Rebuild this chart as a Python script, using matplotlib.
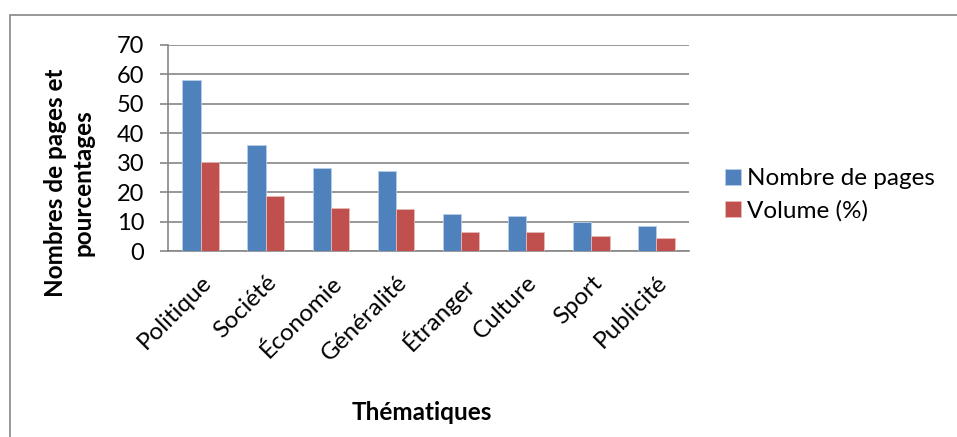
import matplotlib.pyplot as plt
import numpy as np
from matplotlib.patches import Rectangle

# données
themes = ['Politique', 'Société', 'Économie', 'Généralité', 'Étranger', 'Culture', 'Sport', 'Publicité']
nb_pages = [58, 36, 28, 27, 12.5, 12, 10, 8.5]
volume = [30.2, 18.8, 14.6, 14.1, 6.5, 6.3, 5.2, 4.4]

W, H = 957, 437
fig = plt.figure(figsize=(W / 100, H / 100), dpi=100)
ax = fig.add_axes([168 / W, 1 - 251 / H, (689 - 168) / W, (251 - 44.7) / H])

x = np.arange(len(themes))
bw = 0.28
ax.bar(x - bw / 2, nb_pages, bw, color='#4F81BD', edgecolor='#B9CDE5', linewidth=0.6,
       label='Nombre de pages', zorder=3)
ax.bar(x + bw / 2, volume, bw, color='#C0504D', edgecolor='#E6B9B8', linewidth=0.6,
       label='Volume (%)', zorder=3)

ax.set_xlim(-0.5, len(themes) - 0.5)
ax.set_ylim(0, 70)
ax.set_yticks(range(0, 71, 10))
ax.yaxis.grid(True, color='#868686', linewidth=1.2, zorder=0)
ax.set_axisbelow(True)

for s in ['top', 'right']:
    ax.spines[s].set_visible(False)
for s in ['left', 'bottom']:
    ax.spines[s].set_color('#868686')
    ax.spines[s].set_linewidth(1.2)

ax.tick_params(axis='y', length=6, width=1.2, color='#868686', labelsize=17, pad=11)
ax.tick_params(axis='x', length=0, labelsize=17.5, pad=15)
for lab in ax.get_yticklabels():
    lab.set_family('Lato')

ax.set_xticks(x)
ax.set_xticklabels(themes, rotation=45, ha='right', rotation_mode='anchor', family='Lato')

fig.text(69 / W, 1 - 183 / H, 'Nombres de pages et\npourcentages', rotation=90,
         ha='center', va='center', fontsize=17.5, fontweight='bold', family='Lato',
         multialignment='center', linespacing=1.25)
fig.text(422 / W, 1 - 413 / H, 'Thématiques', ha='center', va='center',
         fontsize=17.5, fontweight='bold', family='Lato')

leg = fig.legend(loc='center left', bbox_to_anchor=(720 / W, 1 - 195 / H), frameon=False,
                 prop={'family': 'Lato', 'size': 17.5}, handlelength=0.65, handleheight=0.65,
                 handletextpad=0.25, labelspacing=0.45, borderaxespad=0, borderpad=0.2)

# cadre gris de la zone du graphique
fig.patches.append(Rectangle((9.5 / W, -0.1), 1.2, (H - 15) / H + 0.1, transform=fig.transFigure,
                             fill=False, edgecolor='#868686', linewidth=1.2))

fig.savefig('out.png', dpi=100)
